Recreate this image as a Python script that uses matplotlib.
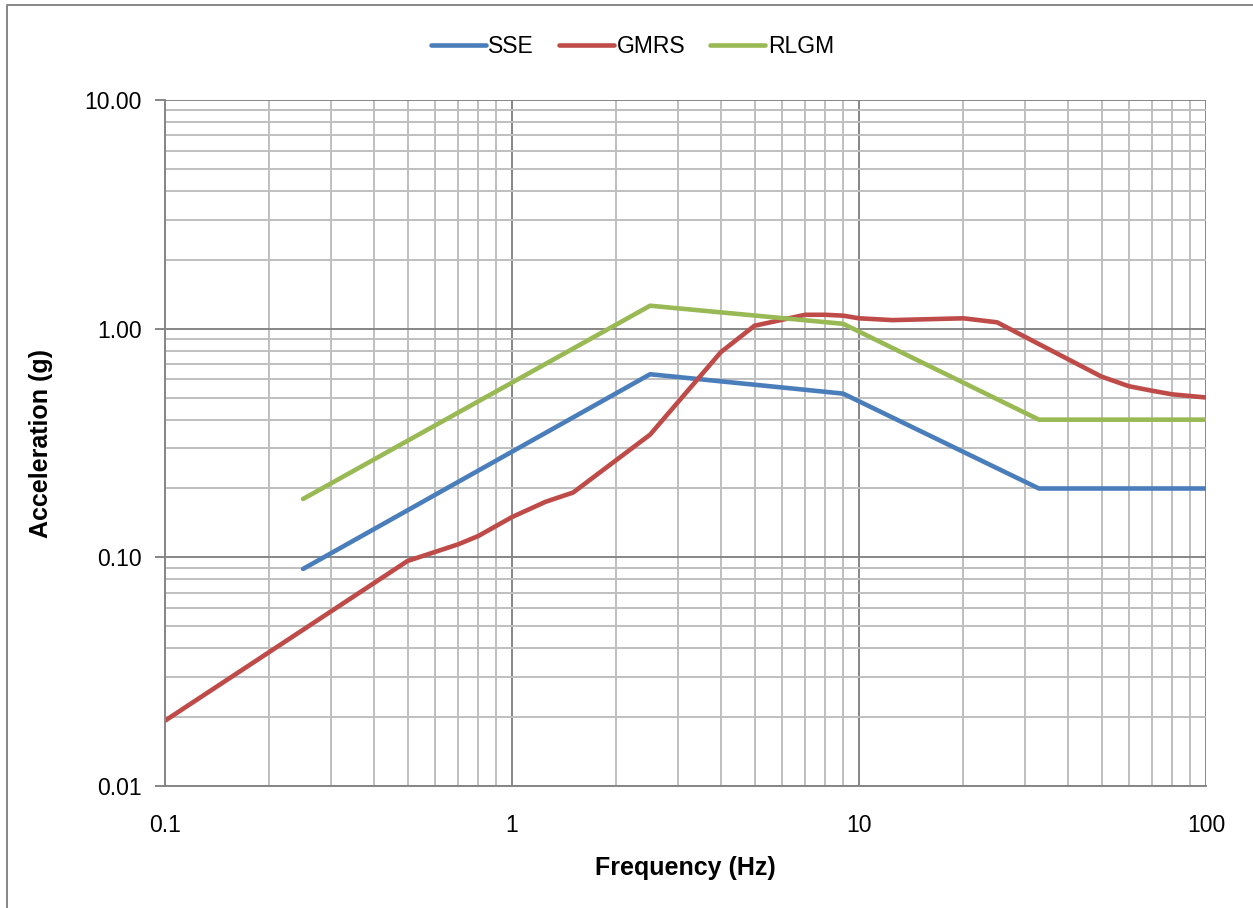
import matplotlib
matplotlib.use("Agg")
import matplotlib.pyplot as plt
from matplotlib.ticker import FixedLocator, LogLocator, NullFormatter, FixedFormatter
from matplotlib.lines import Line2D

plt.rcParams['font.family'] = ['Liberation Sans', 'DejaVu Sans']

sse_f = [0.25, 2.5, 9, 33, 100]
sse_a = [0.089, 0.632, 0.52, 0.20, 0.20]

gmrs_f = [0.1, 0.5, 0.7, 0.8, 1.0, 1.25, 1.5, 2.5, 4, 5, 7, 8, 9, 10, 12.5, 20, 25, 50, 60, 70, 80, 100]
gmrs_a = [0.0193, 0.0964, 0.114, 0.124, 0.150, 0.175, 0.192, 0.344, 0.79, 1.03, 1.15, 1.15, 1.14, 1.11, 1.09, 1.11, 1.066, 0.617, 0.56, 0.535, 0.516, 0.50]

rlgm_f = [0.25, 2.5, 9, 33, 100]
rlgm_a = [0.18, 1.26, 1.05, 0.40, 0.40]

series_names = ["SSE", "GMRS", "RLGM"]
colors = ["#4A7EBB", "#BE4B48", "#98B954"]

y_ticks = [0.01, 0.1, 1, 10]
y_labels = ["0.01", "0.10", "1.00", "10.00"]
x_ticks = [0.1, 1, 10, 100]
x_labels = ["0.1", "1", "10", "100"]

fig = plt.figure(figsize=(12.53, 9.08), dpi=100)
# chart-area border: only the left and top edges are visible in the reference
fig.lines.append(Line2D([0.0056, 0.0056, 1.0], [0.0, 0.9945, 0.9945], transform=fig.transFigure,
                        color="#868686", linewidth=1.4))
ax = fig.add_axes([165/1253, (908-786)/908, (1206-165)/1253, (786-100)/908])

for f, a, name, c in zip([sse_f, gmrs_f, rlgm_f], [sse_a, gmrs_a, rlgm_a], series_names, colors):
    ax.plot(f, a, color=c, linewidth=3.3, label=name, solid_capstyle='round', solid_joinstyle='round')

ax.set_xscale('log')
ax.set_yscale('log')
ax.set_xlim(0.1, 100)
ax.set_ylim(0.01, 10)

ax.xaxis.set_major_locator(FixedLocator(x_ticks))
ax.xaxis.set_major_formatter(FixedFormatter(x_labels))
ax.yaxis.set_major_locator(FixedLocator(y_ticks))
ax.yaxis.set_major_formatter(FixedFormatter(y_labels))
ax.xaxis.set_minor_locator(LogLocator(base=10, subs=range(2, 10)))
ax.yaxis.set_minor_locator(LogLocator(base=10, subs=range(2, 10)))
ax.xaxis.set_minor_formatter(NullFormatter())
ax.yaxis.set_minor_formatter(NullFormatter())

ax.grid(which='major', color='#868686', linewidth=1.4)
ax.grid(which='minor', color='#BFBFBF', linewidth=1.4)
ax.set_axisbelow(True)

for side in ['top', 'right']:
    ax.spines[side].set_visible(False)
for side in ['left', 'bottom']:
    ax.spines[side].set_color('#868686')
    ax.spines[side].set_linewidth(1.4)

ax.tick_params(axis='y', which='major', length=7, color='#868686', width=1.4, labelsize=16.5, pad=10)
ax.tick_params(axis='x', which='major', length=0, labelsize=16.5, pad=20)
ax.tick_params(which='minor', length=0)

ax.set_xlabel("Frequency (Hz)", fontsize=18, fontweight='bold', labelpad=14)
ax.set_ylabel("Acceleration (g)", fontsize=18, fontweight='bold', labelpad=22)

leg = ax.legend(loc='lower center', bbox_to_anchor=(0.449, 1.048), ncol=3, frameon=False,
                fontsize=16.5, handlelength=2.4, handletextpad=0.1, columnspacing=1.1,
                borderaxespad=0.0)

fig.savefig("out.png", dpi=100)
